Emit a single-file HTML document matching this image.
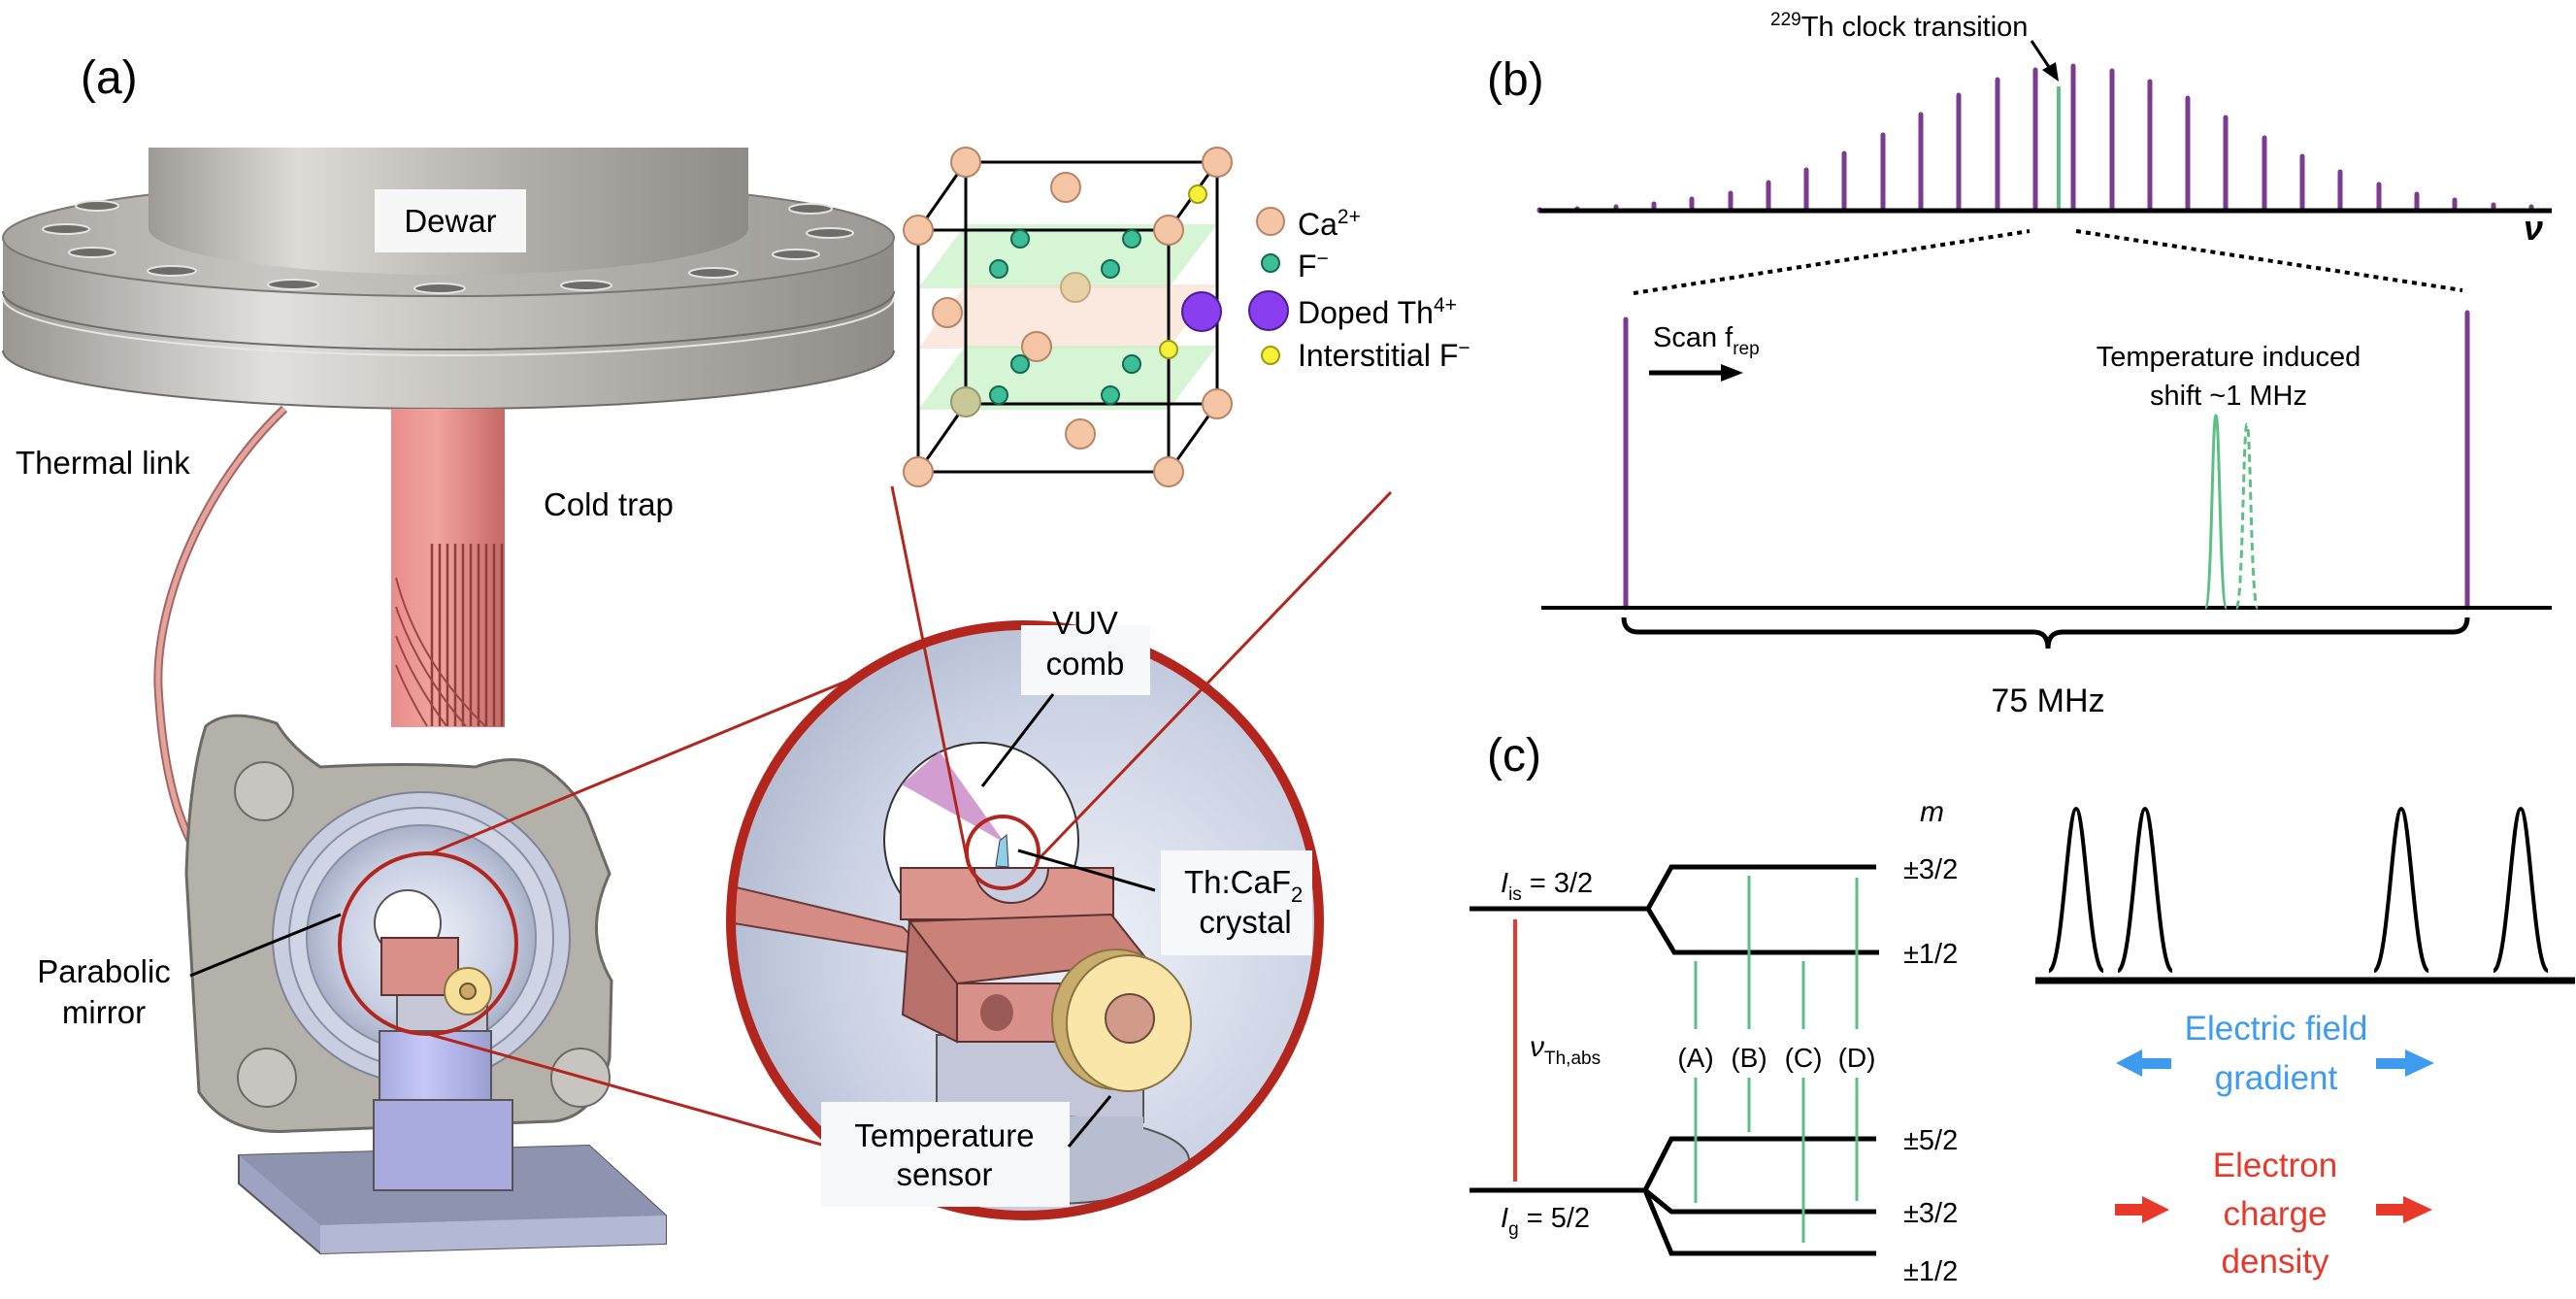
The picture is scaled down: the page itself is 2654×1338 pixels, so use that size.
<!DOCTYPE html>
<html><head><meta charset="utf-8"><style>
html,body{margin:0;padding:0;background:#fff;}
svg{display:block;}
text{font-family:"Liberation Sans",Arial,sans-serif;}
</style></head><body>
<svg width="2654" height="1338" viewBox="0 0 2654 1338" xmlns="http://www.w3.org/2000/svg">
<defs>
<linearGradient id="gDewar" x1="0" x2="1" y1="0" y2="0">
<stop offset="0" stop-color="#9e9b97"/><stop offset="0.25" stop-color="#dedbd6"/><stop offset="0.6" stop-color="#b3b0ab"/><stop offset="1" stop-color="#8f8c88"/></linearGradient>
<linearGradient id="gSide" x1="0" x2="1" y1="0" y2="0">
<stop offset="0" stop-color="#9a9793"/><stop offset="0.3" stop-color="#e2e0dc"/><stop offset="0.7" stop-color="#b0ada8"/><stop offset="1" stop-color="#8f8c88"/></linearGradient>
<linearGradient id="gTop" x1="0" x2="1" y1="0" y2="0">
<stop offset="0" stop-color="#a9a6a2"/><stop offset="0.3" stop-color="#c9c6c2"/><stop offset="1" stop-color="#9c9995"/></linearGradient>
<linearGradient id="gCold" x1="0" x2="1" y1="0" y2="0">
<stop offset="0" stop-color="#e88e8a"/><stop offset="0.4" stop-color="#f2a39e"/><stop offset="1" stop-color="#c56864"/></linearGradient>
<radialGradient id="gBig" cx="0.6" cy="0.55" r="0.7">
<stop offset="0" stop-color="#eef1f8"/><stop offset="0.6" stop-color="#cbd2e4"/><stop offset="1" stop-color="#aab3cb"/></radialGradient>
<radialGradient id="gMirror" cx="0.5" cy="0.5" r="0.5">
<stop offset="0" stop-color="#f2f4fa"/><stop offset="0.7" stop-color="#c9d0e3"/><stop offset="1" stop-color="#a9b1c8"/></radialGradient>
<linearGradient id="gPost" x1="0" x2="1">
<stop offset="0" stop-color="#a6aade"/><stop offset="0.4" stop-color="#c5c8f8"/><stop offset="1" stop-color="#9a9ed2"/></linearGradient>
</defs>

<!-- ============ PANEL A ============ -->
<text x="83" y="96" font-size="48">(a)</text>

<!-- thermal link -->
<path d="M293,421 C210,500 160,620 163,707 C168,800 185,850 206,884 C250,950 330,975 397,994" fill="none" stroke="#a86560" stroke-width="9"/>
<path d="M293,421 C210,500 160,620 163,707 C168,800 185,850 206,884 C250,950 330,975 397,994" fill="none" stroke="#e3a39e" stroke-width="5"/>

<!-- flange -->
<path d="M3,245 L3,361 A459,60 0 0 0 921,361 L921,245 Z" fill="url(#gSide)"/>
<path d="M3,300 A459,60 0 0 0 921,300" fill="none" stroke="#6f6c68" stroke-width="2"/>
<path d="M3,306 A459,60 0 0 0 921,306" fill="none" stroke="#e8e6e2" stroke-width="2"/>
<path d="M3,361 A459,60 0 0 0 921,361" fill="none" stroke="#6f6c68" stroke-width="2"/>
<ellipse cx="462" cy="245" rx="459" ry="60" fill="url(#gTop)" stroke="#7a7773" stroke-width="2"/>
<g fill="#6e6b68" stroke="#e6e4e0" stroke-width="2">
<ellipse cx="100" cy="212" rx="22" ry="5"/><ellipse cx="68" cy="236" rx="24" ry="5"/><ellipse cx="95" cy="260" rx="24" ry="5"/>
<ellipse cx="177" cy="279" rx="25" ry="5"/><ellipse cx="302" cy="293" rx="26" ry="5"/><ellipse cx="453" cy="297" rx="26" ry="5"/>
<ellipse cx="604" cy="294" rx="26" ry="5"/><ellipse cx="735" cy="281" rx="25" ry="5"/><ellipse cx="820" cy="262" rx="24" ry="5"/>
<ellipse cx="855" cy="240" rx="24" ry="5"/><ellipse cx="835" cy="215" rx="22" ry="5"/>
</g>
<path d="M153,152 L771,152 L771,235 A309,48 0 0 1 153,235 Z" fill="url(#gDewar)"/>
<rect x="386" y="195" width="156" height="65" fill="#f7f7f7"/>
<text x="464" y="239" font-size="33" text-anchor="middle">Dewar</text>

<!-- cold trap -->
<rect x="403" y="421" width="117" height="328" fill="url(#gCold)"/>
<g stroke="#8e3f3b" stroke-width="2.5">
<line x1="445" y1="560" x2="445" y2="748"/><line x1="453" y1="560" x2="453" y2="748"/><line x1="461" y1="560" x2="461" y2="748"/>
<line x1="469" y1="560" x2="469" y2="748"/><line x1="477" y1="560" x2="477" y2="748"/><line x1="485" y1="560" x2="485" y2="748"/>
<line x1="493" y1="560" x2="493" y2="748"/><line x1="501" y1="560" x2="501" y2="748"/><line x1="509" y1="560" x2="509" y2="748"/>
<line x1="517" y1="560" x2="517" y2="748"/>
</g>
<g stroke="#9a4843" stroke-width="2" fill="none">
<path d="M408,595 Q430,680 500,748"/><path d="M408,625 Q430,690 480,748"/><path d="M408,655 Q425,700 460,748"/><path d="M408,685 Q420,715 440,748"/>
</g>
<text x="16" y="488" font-size="33">Thermal link</text>
<text x="560" y="531" font-size="33">Cold trap</text>

<!-- chamber -->
<path d="M212,748 Q235,728 285,745 Q300,770 330,790 Q420,785 490,790 Q530,775 560,790 Q590,810 605,840 L628,900 Q600,960 630,1010 L628,1090 Q615,1150 570,1155 L300,1165 Q235,1170 205,1125 L192,900 Q195,800 212,748 Z" fill="#b4b0aa" stroke="#6d6a66" stroke-width="3"/>
<circle cx="272" cy="815" r="30" fill="#c8c4bf" stroke="#6d6a66" stroke-width="2"/>
<circle cx="275" cy="1110" r="30" fill="#c8c4bf" stroke="#6d6a66" stroke-width="2"/>
<circle cx="598" cy="1110" r="30" fill="#c8c4bf" stroke="#6d6a66" stroke-width="2"/>
<ellipse cx="434" cy="966" rx="153" ry="150" fill="#c8cde0" stroke="#7f8396" stroke-width="2"/>
<ellipse cx="434" cy="966" rx="136" ry="134" fill="#d0d5e6" stroke="#8a8fa2" stroke-width="2"/>
<ellipse cx="434" cy="966" rx="118" ry="116" fill="url(#gMirror)" stroke="#8a8fa2" stroke-width="2"/>
<circle cx="420" cy="951" r="34" fill="#ffffff" stroke="#555" stroke-width="2"/>
<rect x="409" y="1025" width="93" height="45" fill="#c6c8d8" stroke="#555" stroke-width="2"/>
<rect x="391" y="1062" width="115" height="80" fill="url(#gPost)" stroke="#555" stroke-width="2"/>
<polygon points="246,1190 607,1180 686,1252 686,1281 330,1291 246,1219" fill="#9ea3c2" stroke="#555" stroke-width="2"/>
<polygon points="246,1190 607,1180 686,1252 330,1262" fill="#8e93b0"/>
<polygon points="330,1262 686,1252 686,1281 330,1291" fill="#b3b8d4"/>
<rect x="385" y="1133" width="143" height="93" fill="#a9abde" stroke="#555" stroke-width="2"/>
<rect x="393" y="966" width="79" height="59" fill="#d89088" stroke="#5a3330" stroke-width="2"/>
<circle cx="482" cy="1021" r="24" fill="#f6df98" stroke="#8a7340" stroke-width="2"/>
<circle cx="482" cy="1021" r="8" fill="#c9a868" stroke="#6a5530" stroke-width="2"/>

<ellipse cx="441" cy="972" rx="91" ry="93" fill="none" stroke="#b3261e" stroke-width="4"/>
<line x1="441" y1="880" x2="905" y2="688" stroke="#b3261e" stroke-width="3"/>
<line x1="441" y1="1065" x2="850" y2="1180" stroke="#b3261e" stroke-width="3"/>

<text x="107" y="1012" font-size="33" text-anchor="middle">Parabolic</text>
<text x="107" y="1054" font-size="33" text-anchor="middle">mirror</text>
<line x1="196" y1="1005" x2="351" y2="942" stroke="#000" stroke-width="3"/>

<!-- big circle -->
<ellipse cx="1056" cy="948" rx="303" ry="304" fill="url(#gBig)"/>
<clipPath id="cbig"><ellipse cx="1056" cy="948" rx="303" ry="304"/></clipPath>
<g clip-path="url(#cbig)">
<circle cx="1011" cy="865" r="100" fill="#fff" stroke="#333" stroke-width="2"/>
<polygon points="929,808 968,774 1035,868" fill="#c784c6" opacity="0.8"/>
<path d="M750,912 L930,955 L960,985 L750,950 Z" fill="#d48c85" stroke="#6a3a36" stroke-width="2"/>
<rect x="965" y="1066" width="213" height="90" fill="#c2c6d8" stroke="#555" stroke-width="2"/>
<ellipse cx="1080" cy="1195" rx="145" ry="45" fill="#b9bdd0" stroke="#555" stroke-width="2"/>
<rect x="965" y="1150" width="213" height="50" fill="#b9bdd0"/>
<rect x="928" y="894" width="219" height="53" fill="#dc958c" stroke="#5a3330" stroke-width="2"/>
<path d="M1004,894 A38,36 0 0 0 1080,894 Z" fill="#c9cde0" stroke="#5a3330" stroke-width="2"/>
<polygon points="937,949 1145,942 1183,990 986,1013" fill="#c98178" stroke="#5a3330" stroke-width="2"/>
<polygon points="937,949 986,1013 986,1073 930,1045" fill="#b8706a" stroke="#5a3330" stroke-width="2"/>
<rect x="986" y="1013" width="106" height="60" fill="#d7918a" stroke="#5a3330" stroke-width="2"/>
<ellipse cx="1027" cy="1043" rx="17" ry="19" fill="#9a5a55"/>
<ellipse cx="1150" cy="1050" rx="66" ry="72" fill="#c9ad6e" stroke="#8a7340" stroke-width="2"/>
<ellipse cx="1163" cy="1054" rx="64" ry="70" fill="#f9e6a8" stroke="#8a7340" stroke-width="2"/>
<circle cx="1164" cy="1049" r="25" fill="#d29a88" stroke="#6a4a40" stroke-width="2"/>
<path d="M1026,892 L1030,866 L1037,860 L1039,893 Z" fill="#8fd0e6" stroke="#335" stroke-width="1"/>
</g>
<ellipse cx="1056" cy="948" rx="303" ry="304" fill="none" stroke="#b3261e" stroke-width="10"/>
<circle cx="1033" cy="878" r="37" fill="none" stroke="#b3261e" stroke-width="4"/>
<line x1="919" y1="501" x2="996" y2="884" stroke="#b3261e" stroke-width="3"/>
<line x1="1433" y1="507" x2="1068" y2="887" stroke="#b3261e" stroke-width="3"/>

<rect x="1052" y="644" width="133" height="72" fill="#f7f8fa"/>
<text x="1118" y="653" font-size="33" text-anchor="middle">VUV</text>
<text x="1118" y="695" font-size="33" text-anchor="middle">comb</text>
<line x1="1085" y1="715" x2="1012" y2="810" stroke="#000" stroke-width="3"/>
<rect x="1196" y="876" width="156" height="108" fill="#f7f8fa"/>
<text x="1220" y="920" font-size="33">Th:CaF<tspan font-size="22" dy="9">2</tspan></text>
<text x="1283" y="961" font-size="33" text-anchor="middle">crystal</text>
<line x1="1049" y1="876" x2="1190" y2="917" stroke="#000" stroke-width="3"/>
<rect x="846" y="1135" width="256" height="108" fill="#f7f8fa"/>
<text x="973" y="1181" font-size="33" text-anchor="middle">Temperature</text>
<text x="973" y="1221" font-size="33" text-anchor="middle">sensor</text>
<line x1="1144" y1="1129" x2="1101" y2="1181" stroke="#000" stroke-width="3"/>

<!-- crystal cube -->
<polygon points="946,297 1204,297 1254,231 995,231" fill="#bff0bf" opacity="0.65"/>
<polygon points="946,359 1204,359 1254,293 995,293" fill="#f9dccc" opacity="0.65"/>
<polygon points="946,422 1204,422 1254,356 995,356" fill="#bff0bf" opacity="0.65"/>
<g stroke="#000" stroke-width="3" fill="none">
<rect x="946" y="237" width="258" height="249"/>
<rect x="995" y="167" width="259" height="249"/>
<line x1="946" y1="237" x2="995" y2="167"/><line x1="1204" y1="237" x2="1254" y2="167"/>
<line x1="946" y1="486" x2="995" y2="416"/><line x1="1204" y1="486" x2="1254" y2="416"/>
</g>
<g fill="#f4c6a6" stroke="#b88466" stroke-width="2">
<circle cx="995" cy="167" r="15"/><circle cx="1254" cy="167" r="15"/><circle cx="946" cy="237" r="15"/><circle cx="1204" cy="237" r="15"/>
<circle cx="1254" cy="416" r="15"/><circle cx="946" cy="486" r="15"/><circle cx="1204" cy="486" r="15"/>
<circle cx="1098" cy="193" r="15"/><circle cx="1113" cy="447" r="15"/><circle cx="976" cy="322" r="15"/><circle cx="1068" cy="357" r="15"/>
</g>
<circle cx="1108" cy="296" r="15" fill="#e8cca0" stroke="#b8a070" stroke-width="2" opacity="0.85"/>
<circle cx="995" cy="414" r="15" fill="#c8c898" stroke="#98986a" stroke-width="2"/>
<g fill="#3cbf98" stroke="#17684f" stroke-width="2">
<circle cx="1051" cy="246" r="9"/><circle cx="1166" cy="246" r="9"/><circle cx="1029" cy="277" r="9"/><circle cx="1144" cy="277" r="9"/>
<circle cx="1051" cy="375" r="9"/><circle cx="1166" cy="375" r="9"/><circle cx="1029" cy="407" r="9"/><circle cx="1144" cy="407" r="9"/>
</g>
<circle cx="1238" cy="321" r="20" fill="#8a3ef0" stroke="#4a1e90" stroke-width="2"/>
<circle cx="1234" cy="200" r="9" fill="#f5f03a" stroke="#a09a10" stroke-width="2"/>
<circle cx="1204" cy="360" r="9" fill="#f5f03a" stroke="#a09a10" stroke-width="2"/>
<circle cx="1309" cy="228" r="14" fill="#f4c6a6" stroke="#b88466" stroke-width="2"/>
<circle cx="1309" cy="271" r="9" fill="#3cbf98" stroke="#17684f" stroke-width="2"/>
<circle cx="1307" cy="320" r="20" fill="#8a3ef0" stroke="#4a1e90" stroke-width="2"/>
<circle cx="1309" cy="366" r="9" fill="#f5f03a" stroke="#a09a10" stroke-width="2"/>
<g font-size="32">
<text x="1337" y="242">Ca<tspan font-size="21" dy="-12">2+</tspan></text>
<text x="1337" y="285">F<tspan font-size="21" dy="-12">−</tspan></text>
<text x="1337" y="333">Doped Th<tspan font-size="21" dy="-12">4+</tspan></text>
<text x="1337" y="377">Interstitial F<tspan font-size="21" dy="-12">−</tspan></text>
</g>

<!-- ============ PANEL B ============ -->
<text x="1532" y="98" font-size="48">(b)</text>
<text x="1824" y="37" font-size="29"><tspan font-size="19" dy="-11">229</tspan><tspan dy="11">Th clock transition</tspan></text>
<line x1="2093" y1="42" x2="2113" y2="72" stroke="#000" stroke-width="3"/>
<polygon points="2121,84 2104,72 2118,64" fill="#000"/>
<g stroke="#7b3b8f" stroke-width="5" stroke-linecap="round">
<line x1="1586" y1="217" x2="1586" y2="216"/>
<line x1="1625" y1="217" x2="1625" y2="215"/>
<line x1="1665" y1="217" x2="1665" y2="213"/>
<line x1="1704" y1="217" x2="1704" y2="210"/>
<line x1="1743" y1="217" x2="1743" y2="205"/>
<line x1="1783" y1="217" x2="1783" y2="199"/>
<line x1="1822" y1="217" x2="1822" y2="188"/>
<line x1="1861" y1="217" x2="1861" y2="175"/>
<line x1="1900" y1="217" x2="1900" y2="158"/>
<line x1="1940" y1="217" x2="1940" y2="139"/>
<line x1="1979" y1="217" x2="1979" y2="118"/>
<line x1="2018" y1="217" x2="2018" y2="98"/>
<line x1="2058" y1="217" x2="2058" y2="82"/>
<line x1="2097" y1="217" x2="2097" y2="72"/>
<line x1="2136" y1="217" x2="2136" y2="68"/>
<line x1="2176" y1="217" x2="2176" y2="73"/>
<line x1="2215" y1="217" x2="2215" y2="84"/>
<line x1="2254" y1="217" x2="2254" y2="101"/>
<line x1="2293" y1="217" x2="2293" y2="121"/>
<line x1="2333" y1="217" x2="2333" y2="142"/>
<line x1="2372" y1="217" x2="2372" y2="161"/>
<line x1="2411" y1="217" x2="2411" y2="177"/>
<line x1="2451" y1="217" x2="2451" y2="190"/>
<line x1="2490" y1="217" x2="2490" y2="200"/>
<line x1="2529" y1="217" x2="2529" y2="206"/>
<line x1="2569" y1="217" x2="2569" y2="211"/>
<line x1="2608" y1="217" x2="2608" y2="213"/>
</g>
<line x1="2121" y1="217" x2="2121" y2="89" stroke="#5cbf84" stroke-width="4"/>
<line x1="1586" y1="217" x2="2629" y2="217" stroke="#000" stroke-width="5"/>
<text x="2600" y="247" font-size="36" font-weight="bold" font-style="italic" font-family="Liberation Serif, serif">ν</text>
<line x1="1683" y1="302" x2="2091" y2="238" stroke="#000" stroke-width="4" stroke-dasharray="5,5"/>
<line x1="2139" y1="238" x2="2537" y2="299" stroke="#000" stroke-width="4" stroke-dasharray="5,5"/>
<line x1="1675" y1="626" x2="1675" y2="329" stroke="#7b3b8f" stroke-width="5" stroke-linecap="round"/>
<line x1="2542" y1="626" x2="2542" y2="322" stroke="#7b3b8f" stroke-width="5" stroke-linecap="round"/>
<line x1="1588" y1="626" x2="2629" y2="626" stroke="#000" stroke-width="4"/>
<text x="1703" y="357" font-size="29">Scan f<tspan font-size="19" dy="8">rep</tspan></text>
<line x1="1699" y1="384" x2="1775" y2="384" stroke="#000" stroke-width="5"/>
<polygon points="1796,384 1773,375 1773,393" fill="#000"/>
<text x="2296" y="377" font-size="29" text-anchor="middle">Temperature induced</text>
<text x="2296" y="417" font-size="29" text-anchor="middle">shift ~1 MHz</text>
<path d="M2272,626 C2279,626 2279,428 2283,428 C2287,428 2287,626 2294,626" fill="none" stroke="#5cbf84" stroke-width="3"/>
<path d="M2304,626 C2311,626 2311,437 2315,437 C2319,437 2319,626 2326,626" fill="none" stroke="#5cbf84" stroke-width="3" stroke-dasharray="8,5"/>
<path d="M1673,636 Q1673,651 1688,651 L2095,651 Q2110,651 2110,668 Q2110,651 2125,651 L2527,651 Q2542,651 2542,636" fill="none" stroke="#000" stroke-width="5"/>
<text x="2110" y="733" font-size="34" text-anchor="middle">75 MHz</text>

<!-- ============ PANEL C ============ -->
<g transform="translate(0,4)">
<text x="1532" y="790" font-size="48">(c)</text>
<g stroke="#000" stroke-width="5" fill="none">
<path d="M1514,932 L1698,932 L1722,889 L1933,889"/>
<path d="M1698,932 L1725,977 L1936,977"/>
<path d="M1514,1222 L1695,1222 L1722,1169 L1933,1169"/>
<path d="M1695,1222 L1722,1244 L1933,1244"/>
<path d="M1695,1222 L1722,1287 L1933,1287"/>
</g>
<line x1="1561" y1="943" x2="1561" y2="1213" stroke="#e8382a" stroke-width="4"/>
<g stroke="#5cbf84" stroke-width="3">
<line x1="1747" y1="986" x2="1747" y2="1056"/><line x1="1747" y1="1106" x2="1747" y2="1235"/>
<line x1="1802" y1="898" x2="1802" y2="1056"/><line x1="1802" y1="1106" x2="1802" y2="1162"/>
<line x1="1858" y1="986" x2="1858" y2="1056"/><line x1="1858" y1="1106" x2="1858" y2="1276"/>
<line x1="1913" y1="900" x2="1913" y2="1056"/><line x1="1913" y1="1106" x2="1913" y2="1233"/>
</g>
<g font-size="28" text-anchor="middle">
<text x="1747" y="1095">(A)</text><text x="1802" y="1095">(B)</text><text x="1858" y="1095">(C)</text><text x="1913" y="1095">(D)</text>
</g>
<text x="1546" y="915" font-size="29"><tspan font-style="italic">I</tspan><tspan font-size="19" dy="8">is</tspan><tspan dy="-8"> = 3/2</tspan></text>
<text x="1546" y="1260" font-size="29"><tspan font-style="italic">I</tspan><tspan font-size="19" dy="8">g</tspan><tspan dy="-8"> = 5/2</tspan></text>
<text x="1576" y="1084" font-size="30" font-style="italic" font-family="Liberation Serif, serif">ν<tspan font-size="19" font-style="normal" font-family="Liberation Sans, sans-serif" dy="8">Th,abs</tspan></text>
<text x="1978" y="842" font-size="30" font-style="italic">m</text>
<g font-size="29">
<text x="1961" y="901">±3/2</text>
<text x="1961" y="988">±1/2</text>
<text x="1961" y="1180">±5/2</text>
<text x="1961" y="1255">±3/2</text>
<text x="1961" y="1315">±1/2</text>
</g>
<line x1="2097" y1="1006" x2="2653" y2="1006" stroke="#000" stroke-width="7"/>
<g fill="none" stroke="#000" stroke-width="4">
<path d="M2111,996 C2125,996 2130,829 2139,829 C2148,829 2153,996 2167,996"/>
<path d="M2182,996 C2196,996 2201,829 2210,829 C2219,829 2224,996 2238,996"/>
<path d="M2446,996 C2460,996 2465,829 2474,829 C2483,829 2488,996 2502,996"/>
<path d="M2569,996 C2583,996 2588,829 2597,829 C2606,829 2611,996 2625,996"/>
</g>
<g fill="#3d9bf0">
<text x="2345" y="1067" font-size="35" text-anchor="middle">Electric field</text>
<text x="2345" y="1118" font-size="35" text-anchor="middle">gradient</text>
<rect x="2205" y="1086" width="32" height="11"/><polygon points="2180,1091 2207,1077 2207,1105"/>
<rect x="2448" y="1086" width="32" height="11"/><polygon points="2508,1091 2478,1077 2478,1105"/>
</g>
<g fill="#e8382a">
<text x="2344" y="1208" font-size="35" text-anchor="middle">Electron</text>
<text x="2344" y="1258" font-size="35" text-anchor="middle">charge</text>
<text x="2344" y="1307" font-size="35" text-anchor="middle">density</text>
<rect x="2179" y="1236" width="30" height="12"/><polygon points="2235,1242 2207,1228 2207,1256"/>
<rect x="2448" y="1236" width="30" height="12"/><polygon points="2506,1242 2476,1228 2476,1256"/>
</g>
</g>
</svg>
</body></html>
